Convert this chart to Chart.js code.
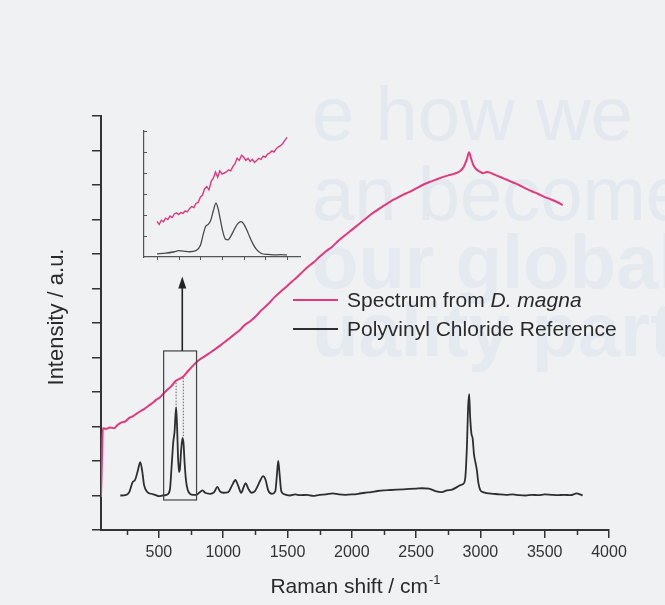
<!DOCTYPE html>
<html>
<head>
<meta charset="utf-8">
<script src="https://cdn.jsdelivr.net/npm/chart.js@4"></script>
<style>
body { margin: 0; background: #eff1f3; }
#wrap { position: relative; width: 665px; height: 605px; overflow: hidden; }
.bg { position: absolute; left: 312px; font-family: "Liberation Sans", Arial, sans-serif; color: #e3e9ef; font-size: 76px; line-height: 1; white-space: nowrap; }
.bg.b { font-weight: bold; color: #e5eaf0; }
#main { position: absolute; left: 0; top: 0; }
#inset { position: absolute; left: 130px; top: 120px; }
</style>
</head>
<body>
<div id="wrap">
  <div class="bg" style="top:76px">e how we</div>
  <div class="bg" style="top:156px">an become</div>
  <div class="bg b" style="top:224px">our global</div>
  <div class="bg b" style="top:292px">uality partner</div>
  <canvas id="main" width="665" height="605"></canvas>
  <canvas id="inset" width="180" height="150"></canvas>
</div>
<script>
// PVC reference spectrum (black)
const pvcShift = [200, 240, 270, 295, 315, 335, 355, 370, 385, 410, 440, 470, 500, 530, 560, 585, 600, 612, 622, 634, 642, 649, 656, 663, 673, 684, 692, 700, 712, 725, 745, 765, 790, 820, 840, 860, 900, 930, 955, 975, 1000, 1040, 1070, 1095, 1115, 1140, 1160, 1175, 1195, 1220, 1245, 1265, 1290, 1310, 1330, 1350, 1380, 1405, 1418, 1428, 1438, 1452, 1480, 1520, 1560, 1600, 1650, 1700, 1750, 1800, 1850, 1900, 1950, 2000, 2050, 2100, 2150, 2200, 2250, 2300, 2350, 2400, 2450, 2500, 2550, 2600, 2650, 2700, 2740, 2780, 2820, 2845, 2865, 2882, 2895, 2905, 2913, 2920, 2930, 2940, 2950, 2962, 2972, 2985, 3000, 3020, 3050, 3100, 3150, 3200, 3250, 3300, 3350, 3400, 3450, 3500, 3550, 3600, 3650, 3700, 3750, 3775, 3795];
const pvcIntensity = [1.00, 1.01, 1.10, 1.38, 1.45, 1.70, 1.97, 1.72, 1.30, 1.10, 1.05, 1.02, 0.98, 1.00, 1.02, 1.15, 1.90, 2.55, 2.85, 3.56, 2.95, 2.10, 1.68, 1.75, 2.30, 2.67, 2.50, 1.95, 1.40, 1.15, 1.04, 1.02, 1.02, 1.10, 1.15, 1.08, 1.05, 1.10, 1.25, 1.12, 1.08, 1.10, 1.30, 1.45, 1.30, 1.08, 1.25, 1.36, 1.20, 1.08, 1.12, 1.25, 1.45, 1.56, 1.45, 1.15, 1.05, 1.12, 1.60, 2.00, 1.65, 1.12, 1.03, 1.00, 1.03, 1.01, 1.02, 0.99, 1.02, 1.03, 1.06, 1.03, 1.02, 1.03, 1.05, 1.08, 1.10, 1.13, 1.15, 1.16, 1.17, 1.18, 1.19, 1.20, 1.21, 1.20, 1.13, 1.10, 1.15, 1.17, 1.25, 1.30, 1.33, 1.50, 2.40, 3.60, 3.94, 3.30, 2.80, 2.65, 2.20, 1.95, 1.75, 1.35, 1.15, 1.10, 1.07, 1.05, 1.03, 1.02, 1.03, 1.01, 1.00, 1.02, 1.01, 1.03, 1.02, 1.01, 1.02, 1.01, 1.06, 1.03, 1.00];

// spectrum from D. magna (pink)
const magnaShift = [50, 57, 64, 90, 120, 150, 180, 210, 240, 270, 300, 330, 360, 390, 420, 450, 480, 510, 540, 570, 600, 630, 660, 690, 720, 750, 780, 810, 850, 890, 930, 970, 1010, 1050, 1090, 1130, 1170, 1210, 1250, 1300, 1350, 1400, 1450, 1500, 1550, 1600, 1650, 1700, 1750, 1800, 1850, 1900, 1950, 2000, 2050, 2100, 2150, 2200, 2250, 2300, 2350, 2400, 2450, 2500, 2550, 2600, 2650, 2700, 2750, 2800, 2840, 2870, 2895, 2912, 2925, 2945, 2970, 3000, 3020, 3050, 3075, 3110, 3150, 3200, 3250, 3300, 3350, 3400, 3450, 3500, 3550, 3600, 3640];
const magnaIntensity = [0.96, 2.00, 2.95, 2.93, 2.97, 2.95, 3.05, 3.12, 3.15, 3.25, 3.30, 3.38, 3.45, 3.52, 3.60, 3.68, 3.78, 3.85, 3.97, 4.08, 4.18, 4.32, 4.38, 4.45, 4.58, 4.70, 4.82, 4.92, 5.02, 5.12, 5.22, 5.33, 5.44, 5.56, 5.68, 5.80, 5.95, 6.05, 6.18, 6.38, 6.55, 6.75, 6.92, 7.08, 7.25, 7.42, 7.60, 7.75, 7.92, 8.08, 8.22, 8.40, 8.55, 8.70, 8.85, 9.00, 9.15, 9.28, 9.40, 9.52, 9.62, 9.72, 9.80, 9.90, 10.00, 10.08, 10.15, 10.22, 10.28, 10.33, 10.40, 10.52, 10.75, 10.95, 10.80, 10.58, 10.45, 10.38, 10.34, 10.38, 10.36, 10.30, 10.24, 10.16, 10.08, 10.00, 9.90, 9.82, 9.74, 9.65, 9.58, 9.50, 9.42];

// inset: 500-800 cm-1 detail
const insetMagnaShift = [500, 505, 510, 515, 520, 525, 530, 535, 540, 545, 550, 555, 560, 565, 570, 575, 580, 585, 590, 595, 600, 605, 610, 615, 620, 625, 630, 635, 640, 645, 650, 655, 660, 665, 670, 675, 680, 685, 690, 695, 700, 705, 710, 715, 720, 725, 730, 735, 740, 745, 750, 755, 760, 765, 770, 775, 780, 785, 790, 795, 800];
const insetMagnaIntensity = [1.70, 1.55, 1.75, 1.68, 1.85, 1.78, 1.95, 1.88, 2.05, 2.10, 2.02, 2.12, 2.08, 2.20, 2.15, 2.30, 2.40, 2.35, 2.55, 2.60, 2.85, 2.95, 3.25, 3.35, 3.20, 3.60, 3.75, 4.05, 3.80, 4.10, 3.95, 4.00, 4.05, 4.15, 4.10, 4.30, 4.45, 4.70, 4.60, 4.85, 4.75, 4.60, 4.70, 4.55, 4.65, 4.50, 4.60, 4.70, 4.65, 4.80, 4.75, 4.90, 4.95, 5.05, 5.00, 5.15, 5.25, 5.30, 5.40, 5.55, 5.70];
const insetPvcShift = [500, 520, 540, 550, 560, 575, 590, 600, 607, 612, 618, 624, 630, 636, 641, 646, 652, 658, 664, 670, 678, 686, 694, 700, 707, 714, 722, 730, 740, 755, 770, 785, 800];
const insetPvcIntensity = [0.15, 0.18, 0.25, 0.30, 0.28, 0.25, 0.30, 0.55, 1.10, 1.45, 1.55, 1.75, 2.20, 2.57, 2.30, 1.80, 1.20, 0.85, 0.82, 0.98, 1.30, 1.58, 1.68, 1.58, 1.30, 0.95, 0.60, 0.35, 0.18, 0.12, 0.10, 0.11, 0.10];

// tick values
const xTicks = [250, 500, 750, 1000, 1250, 1500, 1750, 2000, 2250, 2500, 2750, 3000, 3250, 3500, 3750, 4000];
const yTicks = [0, 1, 2, 3, 4, 5, 6, 7, 8, 9, 10, 11, 12];
const insetXTicks = [500, 550, 600, 650, 700, 750, 800];
const insetYTicks = [1, 2, 3, 4, 5, 6];

// zoom box, arrow and dotted guides (data units)
const boxShift = [537, 793];
const boxIntensity = [0.87, 5.19];
const arrowShift = 682;
const arrowTop = 7.35;
const guideShift = [634, 690];
const guideFrom = [3.62, 2.72];
const guideTo = [4.33, 4.45];

const PINK = '#e2387f';
const INK = '#2e2e2e';
const FONT = '"Liberation Sans", Arial, sans-serif';

Chart.defaults.font.family = FONT;
Chart.defaults.color = '#333';

function pairs(xs, ys) {
    return xs.map((x, i) => ({ x: x, y: ys[i] }));
}

//Extra drawing for the main chart
const mainDecor = {
    id: 'mainDecor',
    afterDraw(chart) {
        const ctx = chart.ctx;
        const xs = chart.scales.x;
        const ys = chart.scales.y;
        const area = chart.chartArea;

        // minor ticks on x
        ctx.save();
        ctx.strokeStyle = '#333';
        ctx.lineWidth = 1.5;
        for (let v of xTicks) {
            if (v % 500 !== 0) {
                const px = Math.round(xs.getPixelForValue(v)) + 0.5;
                ctx.beginPath();
                ctx.moveTo(px, area.bottom);
                ctx.lineTo(px, area.bottom + 5);
                ctx.stroke();
            }
        }

        // zoom box
        const bx1 = xs.getPixelForValue(boxShift[0]);
        const bx2 = xs.getPixelForValue(boxShift[1]);
        const by1 = ys.getPixelForValue(boxIntensity[1]);
        const by2 = ys.getPixelForValue(boxIntensity[0]);
        ctx.strokeStyle = '#444';
        ctx.lineWidth = 1.2;
        ctx.strokeRect(bx1, by1, bx2 - bx1, by2 - by1);

        // arrow up to the inset
        const ax = xs.getPixelForValue(arrowShift);
        const ay = ys.getPixelForValue(arrowTop);
        ctx.strokeStyle = '#222';
        ctx.lineWidth = 1.6;
        ctx.beginPath();
        ctx.moveTo(ax, by1);
        ctx.lineTo(ax, ay + 10);
        ctx.stroke();
        ctx.fillStyle = '#222';
        ctx.beginPath();
        ctx.moveTo(ax, ay);
        ctx.lineTo(ax - 4, ay + 12);
        ctx.lineTo(ax + 4, ay + 12);
        ctx.closePath();
        ctx.fill();

        // dotted guides
        ctx.strokeStyle = '#666';
        ctx.lineWidth = 1;
        ctx.setLineDash([1.5, 1.5]);
        for (let i = 0; i < guideShift.length; i++) {
            const gx = xs.getPixelForValue(guideShift[i]);
            ctx.beginPath();
            ctx.moveTo(gx, ys.getPixelForValue(guideFrom[i]));
            ctx.lineTo(gx, ys.getPixelForValue(guideTo[i]));
            ctx.stroke();
        }
        ctx.setLineDash([]);

        // legend
        const lx = area.left + 192;
        ctx.lineWidth = 2;
        ctx.strokeStyle = PINK;
        ctx.beginPath();
        ctx.moveTo(lx, 300);
        ctx.lineTo(lx + 45, 300);
        ctx.stroke();
        ctx.strokeStyle = INK;
        ctx.beginPath();
        ctx.moveTo(lx, 329);
        ctx.lineTo(lx + 45, 329);
        ctx.stroke();

        ctx.fillStyle = '#2a2a2a';
        ctx.textBaseline = 'alphabetic';
        ctx.textAlign = 'left';
        ctx.font = '21px ' + FONT;
        const first = 'Spectrum from ';
        ctx.fillText(first, lx + 54, 307);
        const w1 = ctx.measureText(first).width;
        ctx.font = 'italic 21px ' + FONT;
        ctx.fillText('D. magna', lx + 54 + w1, 307);
        ctx.font = '21px ' + FONT;
        ctx.fillText('Polyvinyl Chloride Reference', lx + 54, 336);

        // axis titles
        const xt = 'Raman shift / cm';
        const wt = ctx.measureText(xt).width;
        ctx.font = '13px ' + FONT;
        const ws = ctx.measureText('-1').width;
        const cx = (area.left + area.right) / 2;
        const tx = cx - (wt + ws) / 2;
        ctx.font = '21px ' + FONT;
        ctx.fillText(xt, tx, 593);
        ctx.font = '13px ' + FONT;
        ctx.fillText('-1', tx + wt + 1, 584);

        ctx.font = '22px ' + FONT;
        ctx.translate(63, (area.top + area.bottom) / 2 - 6);
        ctx.rotate(-Math.PI / 2);
        ctx.textAlign = 'center';
        ctx.fillText('Intensity / a.u.', 0, 0);
        ctx.restore();
    }
};

const mainChart = new Chart(document.getElementById('main'), {
    type: 'line',
    data: {
        datasets: [{
            label: 'Spectrum from D. magna',
            data: pairs(magnaShift, magnaIntensity),
            borderColor: PINK,
            borderWidth: 2,
            pointRadius: 0,
            cubicInterpolationMode: 'monotone'
        }, {
            label: 'Polyvinyl Chloride Reference',
            data: pairs(pvcShift, pvcIntensity),
            borderColor: INK,
            borderWidth: 1.8,
            pointRadius: 0,
            cubicInterpolationMode: 'monotone'
        }]
    },
    options: {
        responsive: false,
        animation: false,
        devicePixelRatio: 1,
        events: [],
        layout: { padding: { left: 0, top: 116, right: 56, bottom: 0 } },
        plugins: { legend: { display: false }, tooltip: { enabled: false } },
        scales: {
            x: {
                type: 'linear',
                min: 50,
                max: 4000,
                afterBuildTicks: s => { s.ticks = xTicks.map(v => ({ value: v })); },
                afterFit: s => { s.height = 75; },
                ticks: {
                    autoSkip: false,
                    maxRotation: 0,
                    padding: 5,
                    font: { size: 16 },
                    color: '#333',
                    callback: v => (v % 500 === 0 ? String(v) : '')
                },
                grid: {
                    drawOnChartArea: false,
                    tickLength: 8,
                    lineWidth: 1.5,
                    color: c => (c.tick && c.tick.value % 500 === 0 ? '#333' : 'rgba(0,0,0,0)')
                },
                border: { color: '#333', width: 2 }
            },
            y: {
                type: 'linear',
                min: 0,
                max: 12,
                afterBuildTicks: s => { s.ticks = yTicks.map(v => ({ value: v })); },
                afterFit: s => { s.width = 101; },
                ticks: { display: false },
                grid: { drawOnChartArea: false, tickLength: 9, lineWidth: 1.5, color: '#333' },
                border: { color: '#333', width: 2 }
            }
        }
    },
    plugins: [mainDecor]
});

//Inset ticks point inward on y and down on x
const insetTicks = {
    id: 'insetTicks',
    afterDraw(chart) {
        const ctx = chart.ctx;
        const area = chart.chartArea;
        ctx.save();
        ctx.strokeStyle = '#555';
        ctx.lineWidth = 1;
        for (let v of insetYTicks) {
            const py = Math.round(chart.scales.y.getPixelForValue(v)) + 0.5;
            ctx.beginPath();
            ctx.moveTo(area.left, py);
            ctx.lineTo(area.left + 3, py);
            ctx.stroke();
        }
        for (let v of insetXTicks) {
            const px = Math.round(chart.scales.x.getPixelForValue(v)) + 0.5;
            ctx.beginPath();
            ctx.moveTo(px, area.bottom);
            ctx.lineTo(px, area.bottom + 3);
            ctx.stroke();
        }
        ctx.restore();
    }
};

const insetChart = new Chart(document.getElementById('inset'), {
    type: 'line',
    data: {
        datasets: [{
            data: pairs(insetMagnaShift, insetMagnaIntensity),
            borderColor: PINK,
            borderWidth: 1.4,
            pointRadius: 0
        }, {
            data: pairs(insetPvcShift, insetPvcIntensity),
            borderColor: '#4a4a4a',
            borderWidth: 1.3,
            pointRadius: 0,
            cubicInterpolationMode: 'monotone'
        }]
    },
    options: {
        responsive: false,
        animation: false,
        devicePixelRatio: 1,
        events: [],
        layout: { padding: { left: 14, top: 11, right: 10, bottom: 13 } },
        plugins: { legend: { display: false }, tooltip: { enabled: false } },
        scales: {
            x: {
                type: 'linear',
                min: 470,
                max: 830,
                afterFit: s => { s.height = 0; },
                ticks: { display: false },
                grid: { display: false },
                border: { display: true, color: '#555', width: 1.2 }
            },
            y: {
                type: 'linear',
                min: 0,
                max: 6,
                afterFit: s => { s.width = 0; },
                ticks: { display: false },
                grid: { display: false },
                border: { display: true, color: '#555', width: 1.2 }
            }
        }
    },
    plugins: [insetTicks]
});
</script>
</body>
</html>
